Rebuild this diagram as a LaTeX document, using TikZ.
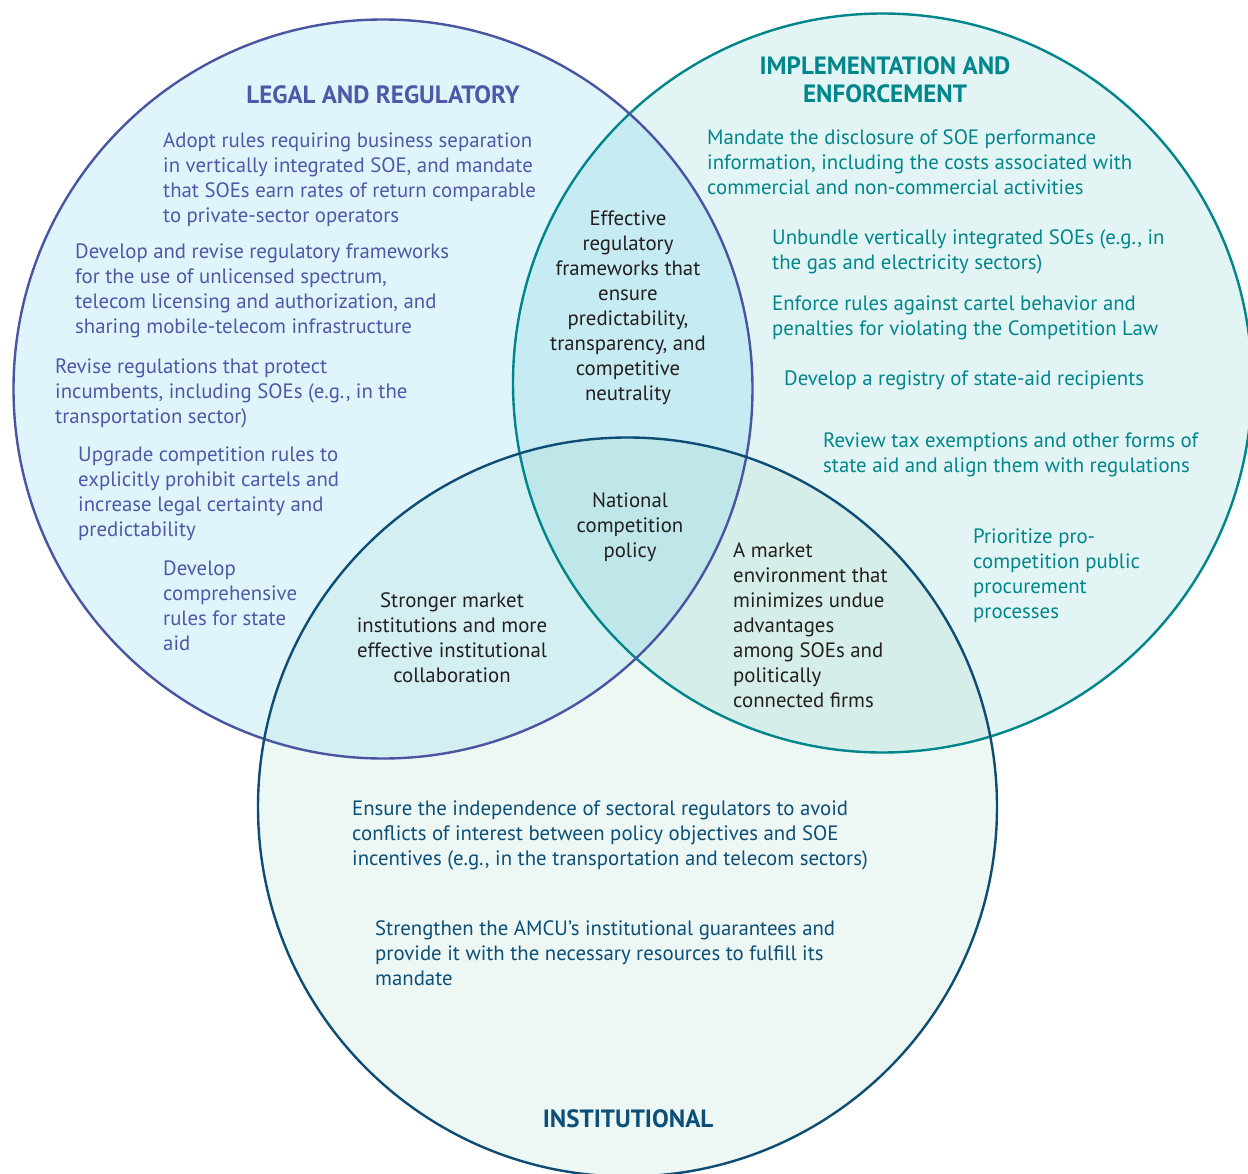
\documentclass[tikz,border=0pt]{standalone}
\usepackage{fontspec}
\setmainfont{PT Sans}
\definecolor{Lfill}{HTML}{DFF5FB}
\definecolor{Rfill}{HTML}{E2F4F4}
\definecolor{Bfill}{HTML}{EDF7F4}
\definecolor{LRfill}{HTML}{C7EBF3}
\definecolor{LBfill}{HTML}{D4EFF2}
\definecolor{RBfill}{HTML}{D6EEEA}
\definecolor{LRBfill}{HTML}{BFE7EA}
\definecolor{Lline}{HTML}{4A55A2}
\definecolor{Rline}{HTML}{00858A}
\definecolor{Bline}{HTML}{0D4C73}
\definecolor{Ltext}{HTML}{4D59A7}
\definecolor{Rtext}{HTML}{00868B}
\definecolor{Btext}{HTML}{0C4F78}
\definecolor{Ctext}{HTML}{231F20}
\newcommand\myst{\rule{0pt}{20pt}}
\tikzset{
  body/.style={inner sep=0pt, font=\fontsize{20.8}{25}\selectfont},
  ltxt/.style={body, text=Ltext, anchor=north west, align=left},
  rtxt/.style={body, text=Rtext, anchor=north west, align=left},
  btxt/.style={body, text=Btext, anchor=north west, align=left},
  ctxt/.style={body, text=Ctext, anchor=north, align=center},
  cltxt/.style={body, text=Ctext, anchor=north west, align=left},
  head/.style={inner sep=0pt, anchor=north, align=center, font=\bfseries\fontsize{25}{28.5}\selectfont},
  ring/.style={line width=2.4pt}
}
\begin{document}
\begin{tikzpicture}[x=1pt,y=-1pt]
\useasboundingbox (0,0) rectangle (1248,1174);
\def\rr{369.5}
\coordinate (cL) at (383,389);
\coordinate (cR) at (882.5,383);
\coordinate (cB) at (627.5,807);
% base fills
\fill[Lfill] (cL) circle[radius=\rr];
\fill[Rfill] (cR) circle[radius=\rr];
\fill[Bfill] (cB) circle[radius=\rr];
% pairwise overlaps
\begin{scope}
  \clip (cL) circle[radius=\rr];
  \fill[LRfill] (cR) circle[radius=\rr];
  \fill[LBfill] (cB) circle[radius=\rr];
\end{scope}
\begin{scope}
  \clip (cR) circle[radius=\rr];
  \fill[RBfill] (cB) circle[radius=\rr];
\end{scope}
\begin{scope}
  \clip (cL) circle[radius=\rr];
  \clip (cR) circle[radius=\rr];
  \fill[LRBfill] (cB) circle[radius=\rr];
\end{scope}
% outlines
\draw[ring, Rline] (cR) circle[radius=\rr];
\draw[ring, Lline] (cL) circle[radius=\rr];
\draw[ring, Bline] (cB) circle[radius=\rr];

% headings
\node[head, text=Ltext] (hL) at (383,83) {\myst LEGAL AND REGULATORY};
\node[head, text=Rtext] (hR) at (885,54) {\myst IMPLEMENTATION AND\\ENFORCEMENT};
\node[head, text=Btext] (hB) at (628,1107) {\myst INSTITUTIONAL};

% legal
\node[ltxt] (l1) at (163,127) {\myst Adopt rules requiring business separation\\in vertically integrated SOE, and mandate\\that SOEs earn rates of return comparable\\to private-sector operators};
\node[ltxt] (l2) at (75,238) {\myst Develop and revise regulatory frameworks\\for the use of unlicensed spectrum,\\telecom licensing and authorization, and\\sharing mobile-telecom infrastructure};
\node[ltxt] (l3) at (55,353) {\myst Revise regulations that protect\\incumbents, including SOEs (e.g., in the\\transportation sector)};
\node[ltxt] (l4) at (78,441) {\myst Upgrade competition rules to\\explicitly prohibit cartels and\\increase legal certainty and\\predictability};
\node[ltxt] (l5) at (163,555) {\myst Develop\\comprehensive\\rules for state\\aid};

% implementation
\node[rtxt] (r1) at (707,124) {\myst Mandate the disclosure of SOE performance\\information, including the costs associated with\\commercial and non-commercial activities};
\node[rtxt] (r2) at (772,224) {\myst Unbundle vertically integrated SOEs (e.g., in\\the gas and electricity sectors)};
\node[rtxt] (r3) at (772,290) {\myst Enforce rules against cartel behavior and\\penalties for violating the Competition Law};
\node[rtxt] (r4) at (784,365) {\myst Develop a registry of state-aid recipients};
\node[rtxt] (r5) at (823,427) {\myst Review tax exemptions and other forms of\\state aid and align them with regulations};
\node[rtxt] (r6) at (973,523) {\myst Prioritize pro-\\competition public\\procurement\\processes};

% overlaps
\node[ctxt] (lr) at (628,205) {\myst Effective\\regulatory\\frameworks that\\ensure\\predictability,\\transparency, and\\competitive\\neutrality};
\node[ctxt] (lrb) at (630,487) {\myst National\\competition\\policy};
\node[ctxt] (lb) at (452,587) {\myst Stronger market\\institutions and more\\effective institutional\\collaboration};
\node[cltxt] (rb) at (733,537) {\myst A market\\environment that\\minimizes undue\\advantages\\among SOEs and\\politically\\connected firms};

% institutional
\node[btxt] (b1) at (352,795) {\myst Ensure the independence of sectoral regulators to avoid\\conflicts of interest between policy objectives and SOE\\incentives (e.g., in the transportation and telecom sectors)};
\node[btxt] (b2) at (375,915) {\myst Strengthen the AMCU’s institutional guarantees and\\provide it with the necessary resources to fulfill its\\mandate};
\end{tikzpicture}
\end{document}
